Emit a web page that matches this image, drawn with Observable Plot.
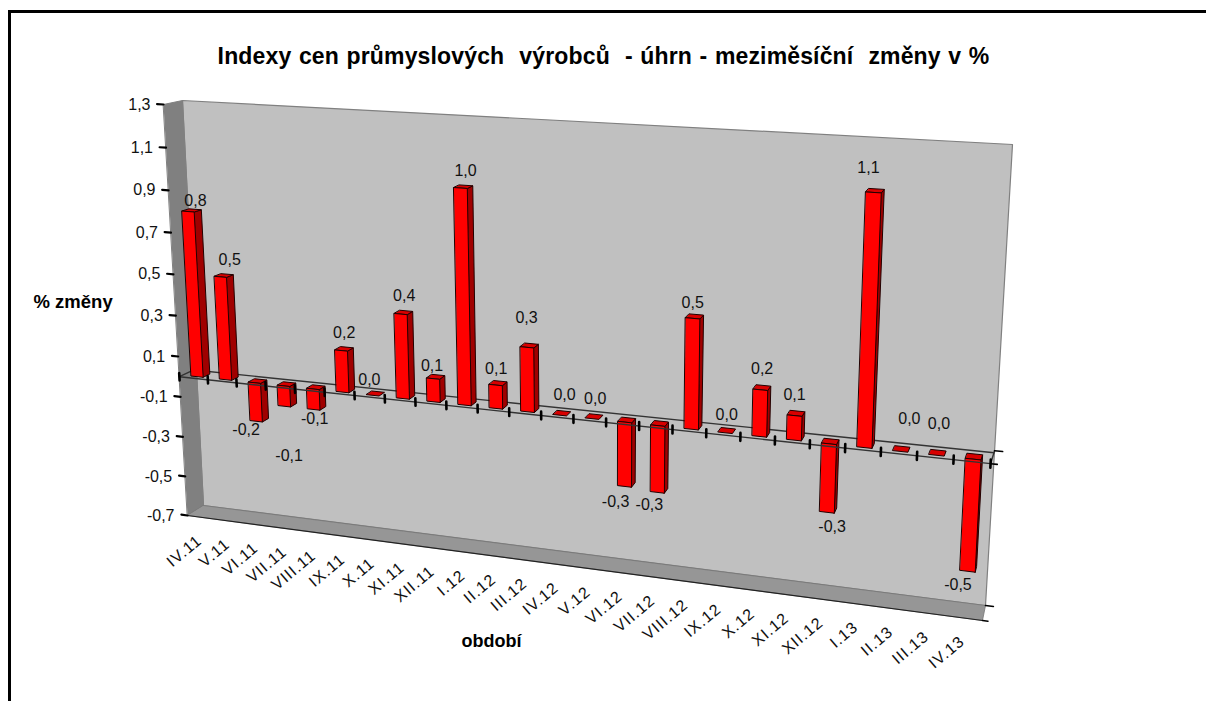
<!DOCTYPE html>
<html><head><meta charset="utf-8">
<script src="https://cdn.jsdelivr.net/npm/d3@7"></script>
<script src="https://cdn.jsdelivr.net/npm/@observablehq/plot@0.6"></script>
<style>
html,body{margin:0;background:#fff}
#chart{position:relative;width:1206px;height:701px;overflow:hidden}
#border{position:absolute;left:8px;top:10px;width:1300px;height:800px;border-left:3px solid #000;border-top:3px solid #000}
svg{position:absolute;left:0;top:0;font-family:"Liberation Sans",Arial,sans-serif}
</style></head><body>
<div id="chart"><div id="border"></div></div>
<script>
const periods = ["IV.11","V.11","VI.11","VII.11","VIII.11","IX.11","X.11","XI.11","XII.11","I.12","II.12","III.12","IV.12","V.12","VI.12","VII.12","VIII.12","IX.12","X.12","XI.12","XII.12","I.13","II.13","III.13","IV.13"];
const changes = [0.8,0.5,-0.19,-0.1,-0.1,0.2,0,0.4,0.11,1.0,0.11,0.3,0,0,-0.3,-0.31,0.5,0,0.21,0.11,-0.31,1.1,0,0,-0.5];
const valueTicks = [-0.7,-0.5,-0.3,-0.1,0.1,0.3,0.5,0.7,0.9,1.1,1.3];
// where each data label sits relative to its bar (category units, value units)
const labelShiftU = [.41,.48,-.25,.2,.13,.23,.01,.23,.07,.26,.11,.08,.23,.17,-.21,-.18,.06,.09,.09,.03,.2,-.11,.25,.06,-.22];
const labelShiftV = [.06,.094,-.037,-.234,-.037,.094,.085,.093,.07,.084,.088,.143,.108,.103,-.067,-.049,.079,.094,.105,.105,-.05,.108,.16,.15,-.054];
const titleText = "Indexy cen průmyslových  výrobců  - úhrn - meziměsíční  změny v %";

const vMin=-0.7, vMax=1.3, n=periods.length;
const comma = v => v.toFixed(1).replace(".",",");

function quad(p){
  const [[x0,y0],[x1,y1],[x2,y2],[x3,y3]]=p;
  const dx1=x1-x2,dx2=x3-x2,sx=x0-x1+x2-x3,dy1=y1-y2,dy2=y3-y2,sy=y0-y1+y2-y3;
  const den=dx1*dy2-dx2*dy1, g=(sx*dy2-dx2*sy)/den, h=(dx1*sy-sx*dy1)/den;
  const a=x1-x0+g*x1,b=x3-x0+h*x3,d=y1-y0+g*y1,e=y3-y0+h*y3;
  return (s,t)=>{const w=g*s+h*t+1;return [(a*s+b*t+x0)/w,(d*s+e*t+y0)/w];};
}
// perspective of the front and back planes of the 3-D box
const frontPlane = quad([[187,515],[982,620],[1006,153],[163,104]]);
const backPlane  = quad([[203,505],[985,605],[1012,144],[182,100]]);
const perspective = d3.geoTransform({point(u,v,d){
  const s=u/n,t=(v-vMin)/(vMax-vMin),k=d==null?0:d;
  const f=frontPlane(s,t),b=backPlane(s,t);
  this.stream.point(f[0]+(b[0]-f[0])*k,f[1]+(b[1]-f[1])*k);
}});

const poly = pts => ({type:"Polygon",coordinates:[[...pts,pts[0]]]});
const seg = (...pts) => ({type:"LineString",coordinates:pts});

const bars = changes.map((v,i)=>({i,v,u0:i+0.3,u1:i+0.72,d0:0.2,d1:0.6}));
const fronts = bars.filter(b=>b.v!==0).map(({v,u0,u1,d0})=>poly([[u0,0,d0],[u1,0,d0],[u1,v,d0],[u0,v,d0]]));
const sides = bars.filter(b=>b.v!==0).map(({v,u1,d0,d1})=>poly([[u1,0,d0],[u1,0,d1],[u1,v,d1],[u1,v,d0]]));
const tops = bars.map(({v,u0,u1,d0,d1})=>{const t=Math.max(v,0);return poly([[u0,t,d0],[u1,t,d0],[u1,t,d1],[u0,t,d1]]);});
const zeroDepth=0.85;

const plot = Plot.plot({
  width:1206,height:701,margin:0,
  projection:perspective,
  marks:[
    Plot.geo([poly([[0,vMin,1],[n,vMin,1],[n,vMax,1],[0,vMax,1]])],{fill:"#c0c0c0",stroke:"#808080",strokeWidth:1.2}),
    Plot.geo([poly([[0,vMin,0],[0,vMin,1],[0,vMax,1],[0,vMax,0]])],{fill:"#808080",stroke:"#808080"}),
    Plot.geo([poly([[0,vMin,0],[n,vMin,0],[n,vMin,1],[0,vMin,1]])],{fill:"#969696",stroke:"#777",strokeWidth:0.8}),
    Plot.geo([seg([0,vMin,0],[n,vMin,0])],{stroke:"#222",strokeWidth:1.2}),
    Plot.geo([seg([0,0,zeroDepth],[n,0,zeroDepth]),seg([0,0,0],[0,0,zeroDepth]),seg([n,0,0],[n,0,1])],{stroke:"#333",strokeWidth:1.4}),
    Plot.geo(sides,{fill:"#a00000",stroke:"#200",strokeWidth:1}),
    Plot.geo(tops,{fill:"#d80000",stroke:"#200",strokeWidth:1}),
    Plot.geo(fronts,{fill:"#ff0000",stroke:"#200",strokeWidth:1}),
    Plot.geo([seg([0,0,0],[n,0,0])],{stroke:"#333",strokeWidth:1.4}),
    Plot.geo(d3.range(n+1).map(i=>seg([i,-0.018,0],[i,0.018,0])),{stroke:"#000",strokeWidth:2.6}),
    Plot.geo([seg([n,0,1],[n+0.22,0,1]),seg([n,0,0],[n+0.18,0,0]),seg([n,vMin,1],[n+0.22,vMin,1]),seg([n,vMin,0],[n+0.15,vMin,0])],{stroke:"#000",strokeWidth:1.6}),
    Plot.geo(valueTicks.map(v=>seg([-0.22,v,0],[0,v,0])),{stroke:"#000",strokeWidth:2.2}),
    Plot.text(valueTicks,{x:()=>0,y:d=>d,text:comma,textAnchor:"end",dx:-13,fontSize:16,fill:"#111"}),
    Plot.text(periods,{x:(d,i)=>i+0.5,y:()=>vMin,text:d=>d,textAnchor:"end",rotate:-40,dx:-2,dy:21,fontSize:16,fill:"#111"}),
    Plot.text(bars,{x:d=>d.i+0.5+labelShiftU[d.i],y:d=>d.v+labelShiftV[d.i],text:d=>comma(d.v),fontSize:16,fill:"#111"}),
    Plot.text([titleText],{frameAnchor:"top",dx:0,dy:47,fontSize:23,fontWeight:"bold",fill:"#000"}),
    Plot.text(["% změny"],{frameAnchor:"top-left",dx:33,dy:294,fontSize:18.5,fontWeight:"bold",fill:"#000"}),
    Plot.text(["období"],{frameAnchor:"top-left",dx:461,dy:634,fontSize:18,fontWeight:"bold",fill:"#000"})
  ]
});
d3.select(plot).selectAll("text").each(function(){
  const t=this.textContent;
  if(t===titleText){this.style.letterSpacing="0.15px";this.style.wordSpacing="1px";}
  else if(periods.includes(t)){this.style.letterSpacing="1px";}
});
document.getElementById("chart").appendChild(plot);
</script></body></html>
